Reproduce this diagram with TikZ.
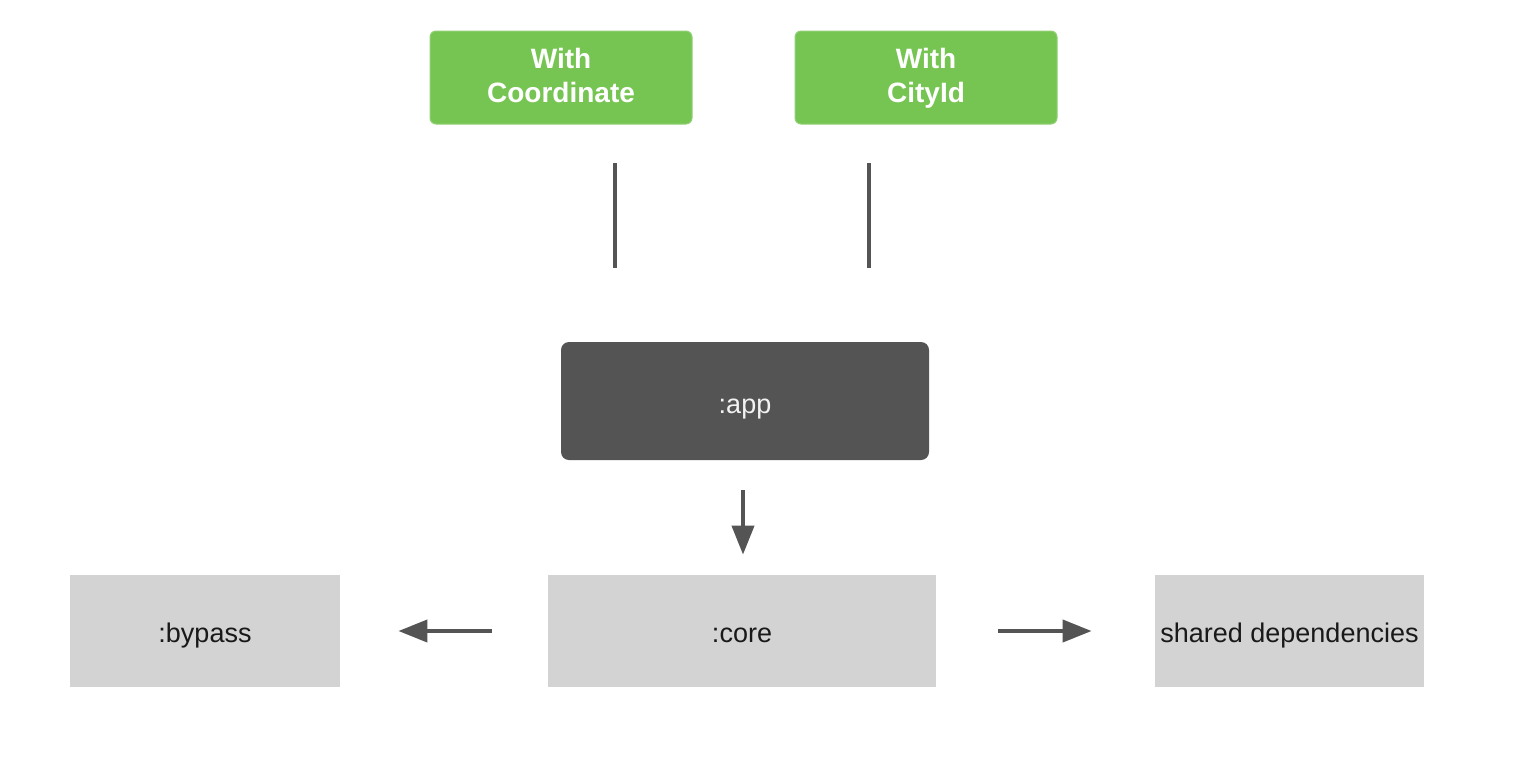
\documentclass[tikz,border=0pt]{standalone}
\usepackage{fontspec}
\setmainfont{Liberation Sans}
\usetikzlibrary{arrows.meta}
\definecolor{grn}{HTML}{76C552}
\definecolor{darkbox}{HTML}{545454}
\definecolor{lightbox}{HTML}{D3D3D3}
\definecolor{linecol}{HTML}{545454}
\newcommand{\toppad}{\rule{0pt}{13.2pt}}
\tikzset{
  greenbox/.style={draw=grn!80!white, line width=0.5pt, fill=grn, rounded corners=3pt, minimum width=131pt, minimum height=46.5pt, inner sep=0pt, text=white, font=\fontsize{14pt}{17pt}\selectfont\bfseries, align=center},
  appbox/.style={fill=darkbox, rounded corners=4pt, minimum width=184pt, minimum height=59pt, inner sep=0pt, text height=15pt, text depth=3pt, text=white!90!gray, font=\fontsize{13.5pt}{15pt}\selectfont},
  modbox/.style={fill=lightbox, minimum height=56pt, inner sep=0pt, text height=14.5pt, text depth=3pt, text=black!90, font=\fontsize{13.5pt}{15pt}\selectfont},
  arr/.style={draw=linecol, line width=2pt, -{Triangle[length=14.5pt,width=11pt]}},
  tick/.style={draw=linecol, line width=1.6pt}
}
\begin{document}
\begin{tikzpicture}[x=0.5pt,y=-0.5pt]
\useasboundingbox[fill=white] (0,0) rectangle (1526,778);
\node[greenbox] (coord) at (561,77.5) {\toppad With\\Coordinate\strut};
\node[greenbox] (city) at (926,77.5) {\toppad With\\CityId\strut};
\node[appbox] (app) at (745,401) {:app};
\node[modbox, minimum width=194pt] (core) at (742,631) {:core};
\node[modbox, minimum width=135pt] (bypass) at (205,631) {:bypass};
\node[modbox, minimum width=134.5pt] (shared) at (1289.5,631) {shared dependencies};
\coordinate (l1t) at (615,163);
\coordinate (l1b) at (615,268);
\coordinate (l2t) at (869,163);
\coordinate (l2b) at (869,268);
\draw[tick] (l1t) -- (l1b);
\draw[tick] (l2t) -- (l2b);
\draw[arr, shorten <=15pt, shorten >=10pt] (app.south -| 743,0) -- (core.north -| 743,0);
\draw[arr, shorten <=28pt, shorten >=29pt] (core.west) -- (bypass.east);
\draw[arr, shorten <=31pt, shorten >=31.5pt] (core.east) -- (shared.west);
\end{tikzpicture}
\end{document}
